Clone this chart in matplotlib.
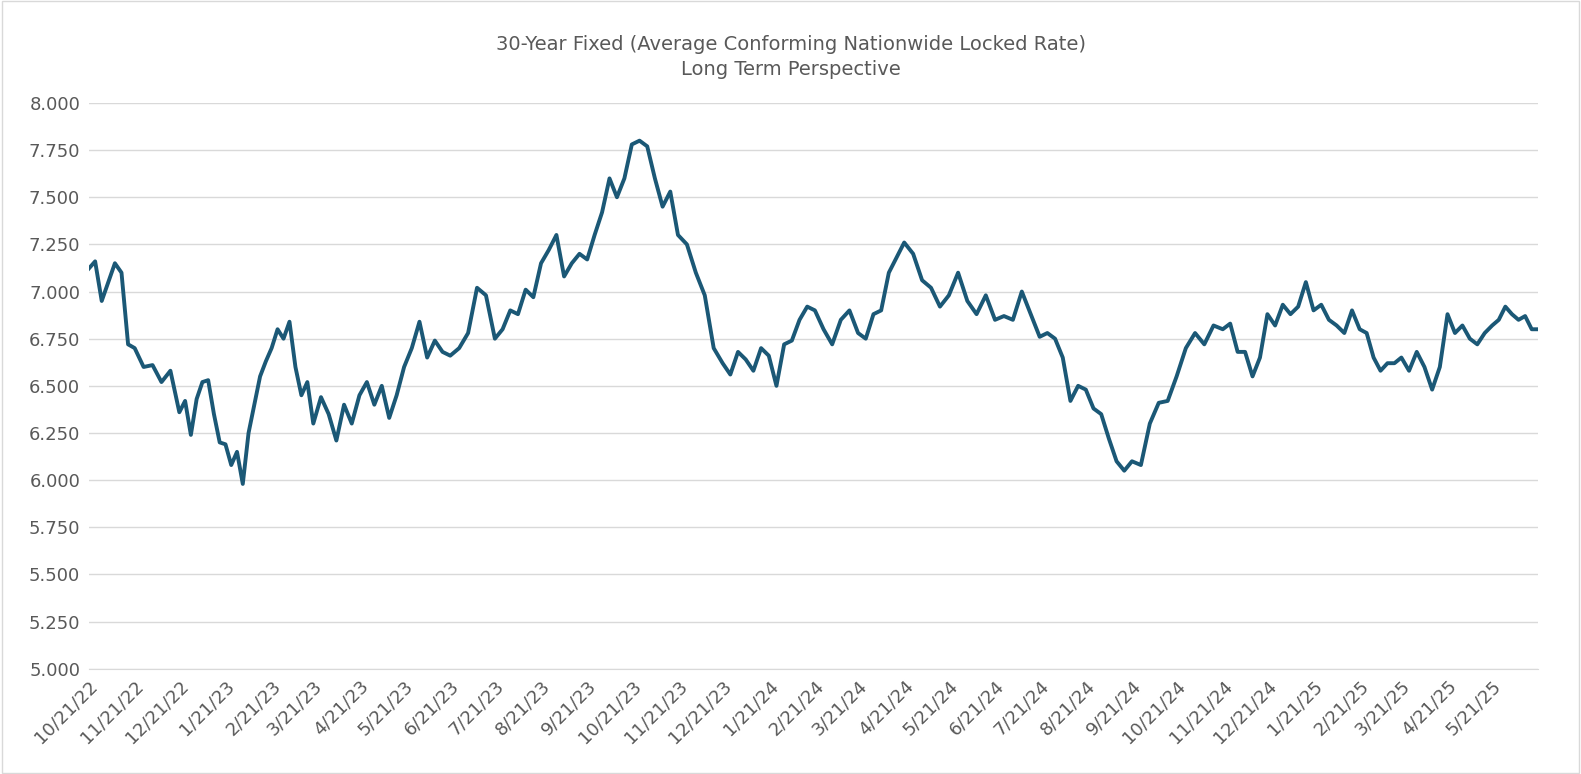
import matplotlib
matplotlib.use('Agg')
import matplotlib.pyplot as plt
import numpy as np
import pandas as pd

# weekly-ish readings, grouped by month segment starting on the 21st
segments = [
    [7.12, 7.16, 6.95, 7.05, 7.15, 7.10, 6.72],
    [6.70, 6.60, 6.61, 6.52, 6.58],
    [6.36, 6.42, 6.24, 6.43, 6.52, 6.53, 6.35, 6.20],
    [6.19, 6.08, 6.15, 5.98, 6.25, 6.40, 6.55, 6.63],
    [6.70, 6.80, 6.75, 6.84, 6.60, 6.45, 6.52],
    [6.30, 6.44, 6.35, 6.21, 6.40, 6.30],
    [6.45, 6.52, 6.40, 6.50, 6.33, 6.45],
    [6.60, 6.70, 6.84, 6.65, 6.74, 6.68],
    [6.66, 6.70, 6.78, 7.02, 6.98],
    [6.75, 6.80, 6.90, 6.88, 7.01, 6.97],
    [7.15, 7.22, 7.30, 7.08, 7.15, 7.20],
    [7.17, 7.30, 7.42, 7.60, 7.50, 7.60],
    [7.78, 7.80, 7.77, 7.60, 7.45, 7.53],
    [7.30, 7.25, 7.10, 6.98, 6.70],
    [6.62, 6.56, 6.68, 6.64, 6.58, 6.70],
    [6.66, 6.50, 6.72, 6.74, 6.85, 6.92],
    [6.90, 6.80, 6.72, 6.85, 6.90],
    [6.78, 6.75, 6.88, 6.90, 7.10, 7.18],
    [7.26, 7.20, 7.06, 7.02, 6.92],
    [6.98, 7.10, 6.95, 6.88, 6.98],
    [6.85, 6.87, 6.85, 7.00, 6.88],
    [6.76, 6.78, 6.75, 6.65, 6.42, 6.50],
    [6.48, 6.38, 6.35, 6.22, 6.10, 6.05],
    [6.10, 6.08, 6.30, 6.41, 6.42],
    [6.55, 6.70, 6.78, 6.72, 6.82],
    [6.80, 6.83, 6.68, 6.68, 6.55, 6.65],
    [6.88, 6.82, 6.93, 6.88, 6.92, 7.05],
    [6.90, 6.93, 6.85, 6.82, 6.78, 6.90],
    [6.80, 6.78, 6.65, 6.58, 6.62, 6.62],
    [6.65, 6.58, 6.68, 6.60, 6.48, 6.60],
    [6.88, 6.78, 6.82, 6.75, 6.72, 6.78],
    [6.82, 6.85, 6.92, 6.88, 6.85, 6.87, 6.80],
]
last_rate = 6.80

month_starts = list(pd.date_range('2022-10-01', periods=len(segments) + 1, freq='MS') + pd.Timedelta(days=20))

dates, rates = [], []
for i, seg in enumerate(segments):
    a, b = month_starts[i], month_starts[i + 1]
    step = (b - a) / len(seg)
    for j, v in enumerate(seg):
        dates.append(a + step * j)
        rates.append(v)
dates.append(month_starts[-1])
rates.append(last_rate)

fig = plt.figure(figsize=(15.81, 7.74), dpi=100)
ax = fig.add_axes([0.056, 0.136, 0.917, 0.731])
ax.plot(dates, rates, color='#1b5876', lw=2.8)

ax.set_ylim(5.0, 8.0)
ax.set_yticks(np.arange(5.0, 8.01, 0.25))
ax.yaxis.set_major_formatter(matplotlib.ticker.FormatStrFormatter('%.3f'))
ax.set_xlim(pd.Timestamp('2022-10-21'), pd.Timestamp('2025-06-21'))
ticks = pd.date_range('2022-10-01', '2025-05-01', freq='MS') + pd.Timedelta(days=20)
ax.set_xticks(ticks)
ax.set_xticklabels([f'{d.month}/{d.day}/{d.year % 100}' for d in ticks],
                   rotation=45, ha='right', rotation_mode='anchor')
ax.grid(axis='y', color='#d9d9d9', lw=1)
ax.set_axisbelow(True)
for s in ['top', 'right', 'left']:
    ax.spines[s].set_visible(False)
ax.spines['bottom'].set_color('#d9d9d9')
ax.tick_params(length=0, labelsize=13, colors='#595959', pad=6)

fig.text(0.5, 0.955, '30-Year Fixed (Average Conforming Nationwide Locked Rate)\nLong Term Perspective',
         ha='center', va='top', fontsize=14, color='#595959', linespacing=1.4)
fig.patches.append(matplotlib.patches.Rectangle((0.001, 0.001), 0.998, 0.998, transform=fig.transFigure,
                                                fill=False, edgecolor='#d9d9d9', lw=1))
fig.savefig('out.png')
